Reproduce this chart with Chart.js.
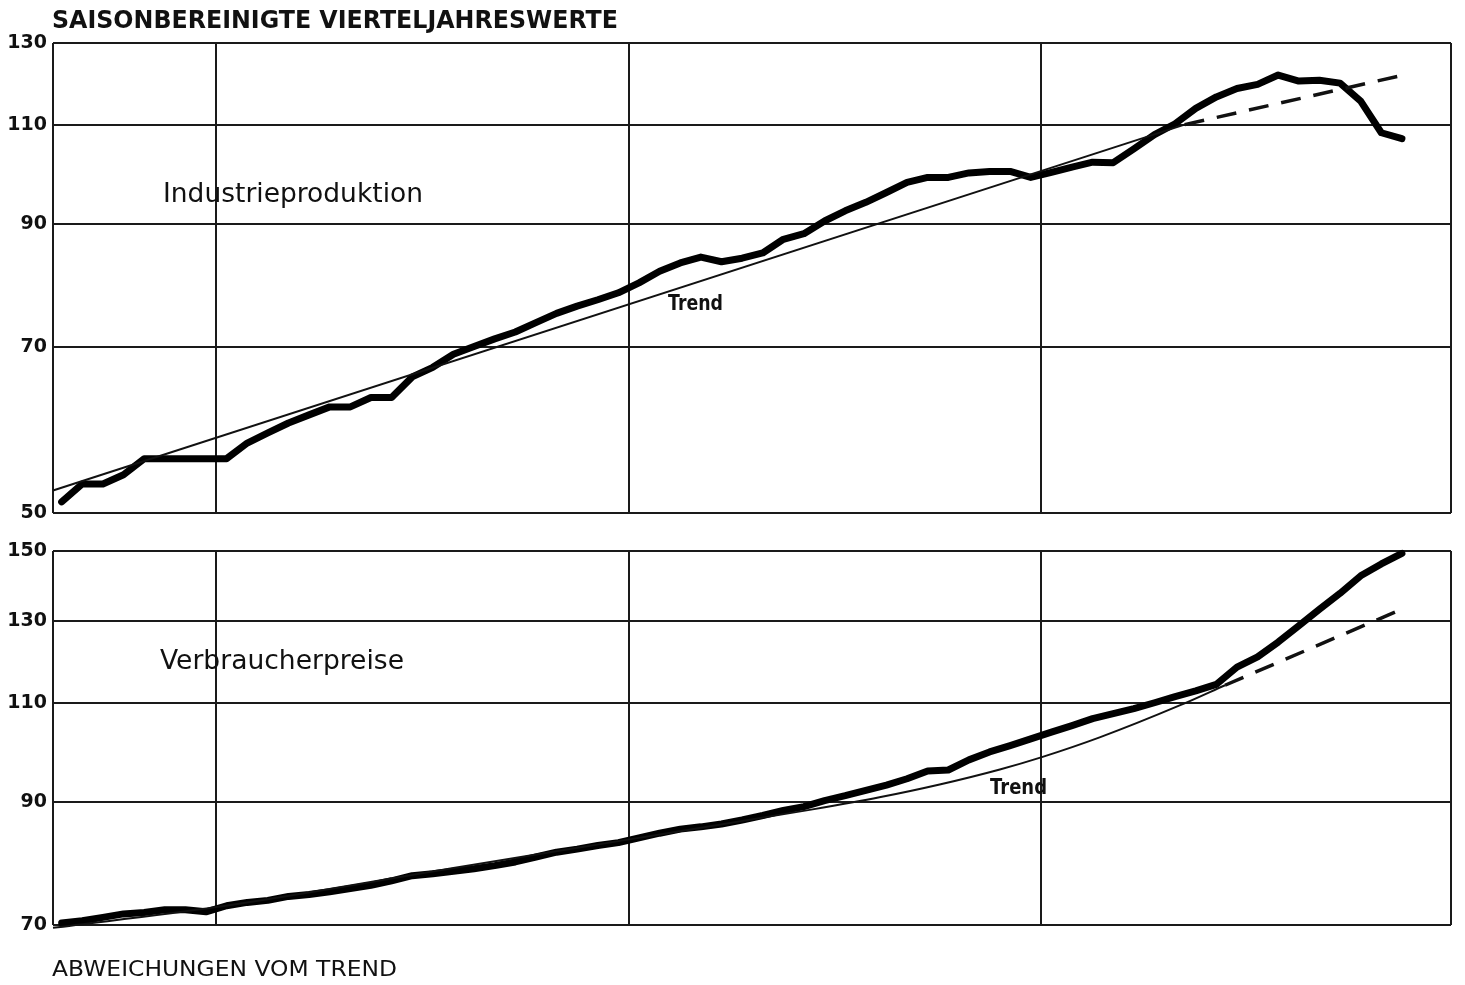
<!DOCTYPE html>
<html lang="de">
<head>
<meta charset="UTF-8">
<title>Saisonbereinigte Vierteljahreswerte</title>
<script src="https://cdn.jsdelivr.net/npm/chart.js"></script>
<style>
  body { margin: 0; background: #fff; }
  #page { position: relative; width: 1465px; height: 985px; overflow: hidden; background: #fff; }
  canvas { position: absolute; left: 0; }
  #topChart { top: 0; }
  #bottomChart { top: 530px; }
  .lbl {
    position: absolute;
    white-space: nowrap;
    line-height: 1;
    color: #111;
    font-family: 'DejaVu Sans', sans-serif;
    transform-origin: 0 50%;
  }
</style>
</head>
<body>
<div id="page">
  <canvas id="topChart" width="1465" height="530"></canvas>
  <canvas id="bottomChart" width="1465" height="455"></canvas>

  <div class="lbl fit" style="left:52px; top:8px; font-size:24px; font-weight:bold;" data-w="566">SAISONBEREINIGTE VIERTELJAHRESWERTE</div>
  <div class="lbl fit" style="left:163px; top:180px; font-size:26px;" data-w="260">Industrieproduktion</div>
  <div class="lbl fit" style="left:668px; top:293px; font-size:21px; font-weight:bold;" data-w="55">Trend</div>
  <div class="lbl fit" style="left:160px; top:647px; font-size:26px;" data-w="244">Verbraucherpreise</div>
  <div class="lbl fit" style="left:990px; top:777px; font-size:21px; font-weight:bold;" data-w="57">Trend</div>
  <div class="lbl fit" style="left:52px; top:959px; font-size:21px;" data-w="345">ABWEICHUNGEN VOM TREND</div>
</div>

<script>
  // Vierteljahreswerte, 1. Quartal 1958 bis 2. Quartal 1974
  const firstYear = 1958;

  const industrie = [
    51.1, 53.0, 53.0, 54.0, 55.8, 55.8, 55.8, 55.8, 55.8, 57.6,
    58.8, 60.0, 61.0, 62.0, 62.0, 63.2, 63.2, 65.9, 67.2, 69.0,
    70.1, 71.2, 72.2, 73.6, 75.0, 76.1, 77.1, 78.2, 79.8, 81.7,
    83.1, 84.1, 83.3, 83.9, 84.8, 87.2, 88.2, 90.5, 92.4, 94.0,
    95.9, 97.9, 98.9, 98.9, 99.8, 100.1, 100.1, 98.9, 99.9, 101.0,
    102.0, 101.9, 104.8, 107.9, 110.3, 113.8, 116.5, 118.5, 119.5, 121.8,
    120.3, 120.5, 119.8, 115.5, 108.3, 107.0
  ];

  const preise = [
    70.3, 70.6, 71.1, 71.6, 71.8, 72.2, 72.2, 71.9, 72.8, 73.3,
    73.6, 74.2, 74.5, 74.9, 75.4, 75.9, 76.6, 77.4, 77.7, 78.1,
    78.5, 79.0, 79.6, 80.4, 81.2, 81.7, 82.3, 82.8, 83.6, 84.4,
    85.1, 85.5, 86.0, 86.7, 87.5, 88.4, 89.1, 90.2, 91.1, 92.1,
    93.1, 94.3, 95.8, 96.0, 98.0, 99.6, 100.9, 102.3, 103.7, 105.1,
    106.6, 107.7, 108.8, 110.1, 111.5, 112.8, 114.3, 118.4, 120.9, 124.6,
    128.8, 133.2, 137.6, 142.6, 146.1, 149.3
  ];

  // Trendlinien (Jahr, Wert) und gestrichelte Fortschreibung
  const trendIndX = [1958.02, 1971.74];
  const trendIndY = [52.3, 110.1];
  const projIndX = [1971.74, 1974.44];
  const projIndY = [110.1, 122.0];

  const trendPreisX = [1958.02, 1960.0, 1962.95, 1964.99, 1967.23, 1968.04, 1968.77, 1969.5, 1970.0, 1970.71, 1971.68, 1972.23];
  const trendPreisY = [69.6, 72.6, 78.8, 83.3, 88.6, 90.8, 93.2, 96.1, 98.5, 102.6, 109.5, 114.1];
  const projPreisX = [1972.23, 1974.37];
  const projPreisY = [114.1, 133.2];

  const yearLines = [1960, 1965, 1970];
  const ticksInd = [50, 70, 90, 110, 130];
  const ticksPreis = [70, 90, 110, 130, 150];
  const xMin = 1958.02, xMax = 1974.97;

  function quarterly(vals) {
    return vals.map((v, i) => ({ x: firstYear + (i + 0.5) / 4, y: v }));
  }
  function pairs(xs, ys) {
    return xs.map((x, i) => ({ x: x, y: ys[i] }));
  }

  function drawPanel(id, series, trend, proj, yTicks, pad) {
    new Chart(document.getElementById(id), {
      type: 'line',
      data: {
        datasets: [
          { data: trend, borderColor: '#111', borderWidth: 2, pointRadius: 0,
            cubicInterpolationMode: 'monotone', clip: false },
          { data: proj, borderColor: '#111', borderWidth: 3.5, borderDash: [20, 13],
            pointRadius: 0, clip: false },
          { data: series, borderColor: '#000', borderWidth: 7, pointRadius: 0,
            borderJoinStyle: 'round', borderCapStyle: 'round', clip: false }
        ]
      },
      options: {
        responsive: false,
        animation: false,
        events: [],
        layout: { padding: pad },
        plugins: { legend: { display: false }, tooltip: { enabled: false } },
        scales: {
          x: {
            type: 'linear',
            min: xMin,
            max: xMax,
            afterBuildTicks: s => { s.ticks = [xMin, ...yearLines, xMax].map(v => ({ value: v })); },
            afterFit: s => { s.height = 0; },
            ticks: { display: false },
            grid: { color: '#1a1a1a', lineWidth: 2, drawTicks: false },
            border: { display: false }
          },
          y: {
            type: 'logarithmic',
            min: yTicks[0],
            max: yTicks[yTicks.length - 1],
            afterBuildTicks: s => { s.ticks = yTicks.map(v => ({ value: v })); },
            afterFit: s => { s.width = 53; },
            ticks: {
              color: '#111',
              padding: 6,
              font: { family: 'DejaVu Sans', size: 19, weight: 'bold' },
              callback: v => String(v)
            },
            grid: { color: '#1a1a1a', lineWidth: 2, drawTicks: false },
            border: { display: false }
          }
        }
      }
    });
  }

  drawPanel('topChart', quarterly(industrie), pairs(trendIndX, trendIndY),
    pairs(projIndX, projIndY), ticksInd, { top: 43, right: 14, bottom: 17, left: 0 });
  drawPanel('bottomChart', quarterly(preise), pairs(trendPreisX, trendPreisY),
    pairs(projPreisX, projPreisY), ticksPreis, { top: 21, right: 14, bottom: 60, left: 0 });

  // squeeze the labels to the width they take in the original
  document.querySelectorAll('.fit').forEach(el => {
    const w = el.getBoundingClientRect().width;
    el.style.transform = 'scaleX(' + (el.dataset.w / w) + ')';
  });
</script>
</body>
</html>
